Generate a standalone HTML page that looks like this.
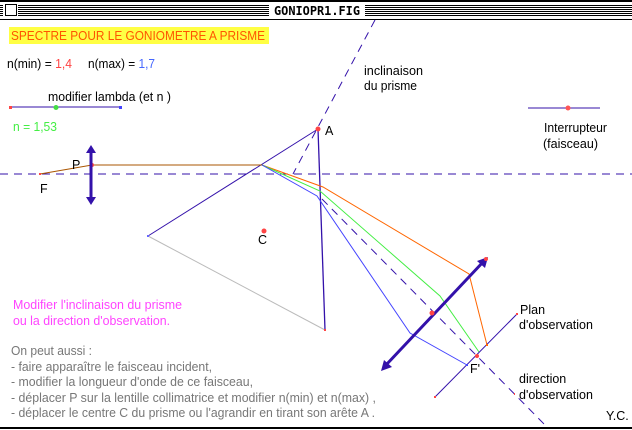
<!DOCTYPE html>
<html><head><meta charset="utf-8"><style>
html,body{margin:0;padding:0;background:#fff;width:632px;height:430px;overflow:hidden}
svg{display:block}
text{font-family:"Liberation Sans",sans-serif;font-size:12.5px}
</style></head><body>
<svg width="632" height="430" viewBox="0 0 632 430" xmlns="http://www.w3.org/2000/svg">
<rect x="0" y="0" width="632" height="2" fill="#000"/>
<g fill="#000">
<rect x="0" y="5" width="632" height="1"/><rect x="0" y="7" width="632" height="1"/><rect x="0" y="9" width="632" height="1"/>
<rect x="0" y="11" width="632" height="1"/><rect x="0" y="13" width="632" height="1"/><rect x="0" y="15" width="632" height="1"/>
</g>
<rect x="3" y="3" width="15" height="14" fill="#fff"/>
<rect x="5.5" y="4.5" width="11" height="11" fill="#fff" stroke="#000"/>
<rect x="269" y="3" width="96" height="14" fill="#fff"/>
<text x="274" y="15" font-weight="bold" font-size="12" textLength="86" lengthAdjust="spacingAndGlyphs" style="font-family:'DejaVu Sans Mono','Liberation Mono',monospace">GONIOPR1.FIG</text>
<rect x="0" y="19" width="632" height="1" fill="#000"/>
<rect x="0" y="427" width="632" height="2" fill="#000"/>

<rect x="9" y="27" width="260" height="17" fill="#ffff44"/>
<text x="11" y="40" fill="#ff5500" font-size="13" textLength="254" lengthAdjust="spacingAndGlyphs">SPECTRE POUR LE GONIOMETRE A PRISME</text>
<text x="7" y="68" fill="#000" textLength="65" lengthAdjust="spacingAndGlyphs">n(min) = <tspan fill="#ff4444">1,4</tspan></text>
<text x="88" y="68" fill="#000" textLength="67" lengthAdjust="spacingAndGlyphs">n(max) = <tspan fill="#4466ff">1,7</tspan></text>
<text x="364" y="75" textLength="59" lengthAdjust="spacingAndGlyphs">inclinaison</text>
<text x="364" y="90" textLength="53" lengthAdjust="spacingAndGlyphs">du prisme</text>
<text x="48" y="101" textLength="123" lengthAdjust="spacingAndGlyphs">modifier lambda (et n )</text>
<line x1="10" y1="107" x2="121" y2="107" stroke="#3311aa"/>
<rect x="9" y="106" width="3" height="3" fill="#f44"/><rect x="119" y="106" width="3" height="3" fill="#44f"/>
<circle cx="56" cy="107.5" r="2.5" fill="#4d4"/>
<text x="13" y="131" fill="#44ee44" textLength="44" lengthAdjust="spacingAndGlyphs">n = 1,53</text>
<line x1="528" y1="108" x2="600" y2="108" stroke="#3311aa"/>
<circle cx="568" cy="108" r="2.5" fill="#f55"/>
<text x="544" y="132" textLength="63" lengthAdjust="spacingAndGlyphs">Interrupteur</text>
<text x="543" y="148" textLength="55" lengthAdjust="spacingAndGlyphs">(faisceau)</text>

<g stroke="#3311aa" stroke-dasharray="8,6" fill="none">
<line x1="0" y1="174" x2="632" y2="174"/>
<line x1="375" y1="20" x2="293" y2="174"/>
<line x1="322" y1="199" x2="547" y2="427"/>
</g>
<line x1="318" y1="129" x2="148" y2="236" stroke="#3311aa"/>
<line x1="148" y1="236" x2="325" y2="330" stroke="#bbb"/>
<line x1="318" y1="129" x2="325" y2="330" stroke="#3311aa" stroke-width="1.3"/>
<circle cx="318" cy="129" r="2.5" fill="#f44"/>
<rect x="147" y="235" width="2" height="2" fill="#66f"/>
<rect x="324" y="329" width="2" height="2" fill="#f44"/>
<text x="325" y="135">A</text>
<circle cx="264" cy="231" r="2.5" fill="#f44"/>
<text x="258" y="244">C</text>
<polyline points="40,174 92,165 262,165" fill="none" stroke="#aa5500"/>
<rect x="39" y="173" width="2" height="2" fill="#f44"/>
<circle cx="92" cy="165" r="2" fill="#f44"/>
<text x="72" y="169">P</text>
<text x="40" y="193">F</text>
<line x1="91" y1="150" x2="91" y2="200" stroke="#3311aa" stroke-width="3"/>
<polygon points="91,145 86,153 96,153" fill="#3311aa"/>
<polygon points="91,205 86,197 96,197" fill="#3311aa"/>
<polyline points="262,165 323,187 469,274 487,345" fill="none" stroke="#ff6600"/>
<polyline points="262,165 320,191 440,296 479,352" fill="none" stroke="#44ee44"/>
<polyline points="262,165 317,196 410,333 467,365" fill="none" stroke="#4444ff"/>
<line x1="386" y1="365" x2="484" y2="261" stroke="#3311aa" stroke-width="3"/>
<polygon points="381,371 384,360 392,367" fill="#3311aa"/>
<polygon points="488,257 477,261 485,268" fill="#3311aa"/>
<circle cx="486" cy="259" r="2" fill="#f44"/>
<circle cx="432" cy="313" r="2.5" fill="#f44"/>
<line x1="435" y1="397" x2="517" y2="314" stroke="#3311aa"/>
<rect x="434" y="396" width="2" height="2" fill="#f44"/>
<rect x="516" y="313" width="2" height="2" fill="#f44"/>
<circle cx="477" cy="356" r="2" fill="#f44"/>
<rect x="486" y="344" width="2" height="2" fill="#f60"/>
<rect x="466" y="364" width="2" height="2" fill="#44f"/>
<rect x="514" y="393" width="1" height="2" fill="#f44"/>
<text x="520" y="314">Plan</text>
<text x="519" y="329">d'observation</text>
<text x="470" y="373">F'</text>
<text x="519" y="383">direction</text>
<text x="519" y="399">d'observation</text>
<text x="606" y="420">Y.C.</text>

<text x="13" y="309" fill="#ff44ff" textLength="169" lengthAdjust="spacingAndGlyphs">Modifier l'inclinaison du prisme</text>
<text x="13" y="325" fill="#ff44ff" textLength="157" lengthAdjust="spacingAndGlyphs">ou la direction d'observation.</text>
<g fill="#777">
<text x="11" y="355" textLength="81" lengthAdjust="spacingAndGlyphs">On peut aussi :</text>
<text x="11" y="371" textLength="201" lengthAdjust="spacingAndGlyphs">- faire apparaître le faisceau incident,</text>
<text x="11" y="386" textLength="242" lengthAdjust="spacingAndGlyphs">- modifier la longueur d'onde de ce faisceau,</text>
<text x="11" y="402" textLength="365" lengthAdjust="spacingAndGlyphs">- déplacer P sur la lentille collimatrice et  modifier n(min) et n(max) ,</text>
<text x="11" y="417" textLength="364" lengthAdjust="spacingAndGlyphs">- déplacer le centre C du prisme ou l'agrandir en tirant son arête A .</text>
</g>
</svg>
</body></html>
